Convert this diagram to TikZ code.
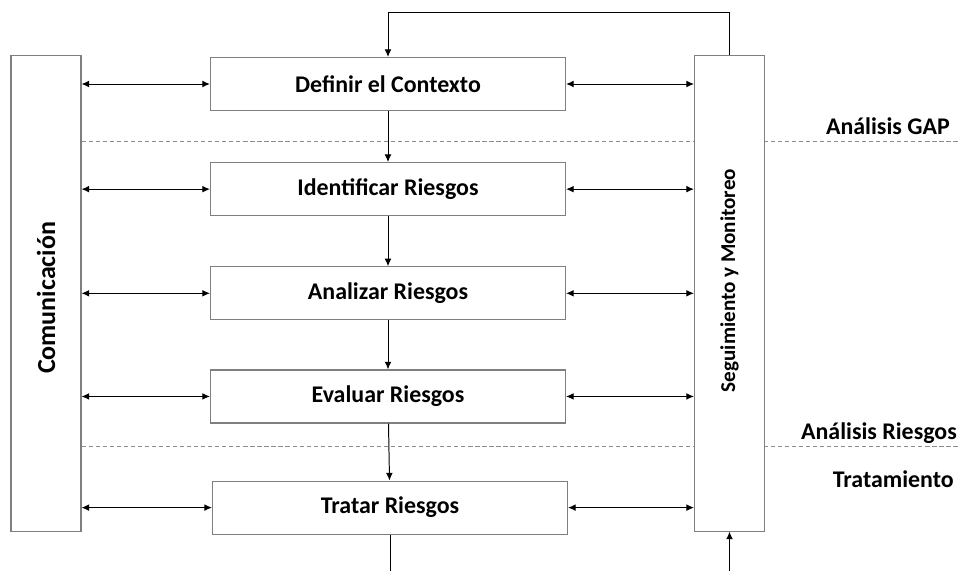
\documentclass[tikz,border=0pt]{standalone}
\usepackage{fontspec}
\setmainfont{Carlito}
\usetikzlibrary{arrows.meta,positioning,backgrounds}
\definecolor{boxGray}{HTML}{7F7F7F}
\definecolor{sepGray}{HTML}{8C8C8C}

\begin{document}
\begin{tikzpicture}[x=0.025cm, y=-0.025cm, node distance=1.25cm,
    every node/.style={font=\bfseries\fontsize{17}{20}\selectfont},
    stepbox/.style={draw=boxGray, line width=0.8pt, fill=white, minimum width=8.875cm, minimum height=1.325cm},
    sidebar/.style={draw=boxGray, line width=0.8pt, fill=white, minimum width=11.875cm, minimum height=1.75cm, rotate=90},
    flow/.style={-{Latex[length=1.9mm,width=1.7mm]}, line width=0.7pt},
    both/.style={{Latex[length=1.9mm,width=1.7mm]}-{Latex[length=1.9mm,width=1.7mm]}, line width=0.7pt},
    sepline/.style={sepGray, dashed, dash pattern=on 3pt off 2pt, line width=0.6pt}]
    \useasboundingbox (0,0) rectangle (959,571);

    % side bars
    \node[sidebar, font=\bfseries\fontsize{18.5}{22}\selectfont] (com) at (46,293.5) {Comunicación\hspace*{0.22cm}};
    \node[sidebar, font=\bfseries\fontsize{15}{18}\selectfont] (seg) at (729.5,293.5) {\hspace*{0.65cm}Seguimiento y Monitoreo};

    % process steps
    \node[stepbox] (ctx) at (388,84) {Definir el Contexto};
    \node[stepbox, below=1.275cm of ctx] (ident) {Identificar Riesgos};
    \node[stepbox, below=of ident] (anal) {Analizar Riesgos};
    \node[stepbox, below=1.225cm of anal] (eval) {Evaluar Riesgos};
    \node[stepbox, below=1.425cm of eval, xshift=0.05cm] (treat) {Tratar Riesgos};

    \foreach \a/\b in {ctx/ident,ident/anal,anal/eval,eval/treat}
      \draw[flow] (\a) -- (\b);
    \foreach \n in {ctx,ident,anal,eval,treat} {
      \draw[both] (com.south |- \n) -- (\n.west);
      \draw[both] (\n.east) -- (seg.north |- \n);
    }

    % feedback loop
    \draw[flow] (seg.east) -- ++(0,-43) -| (ctx.north);
    \coordinate (bottomL) at (treat.south |- 0,571);
    \coordinate (bottomR) at (seg.west |- 0,571);
    \draw[line width=0.7pt] (treat.south) -- (bottomL);
    \draw[flow] (bottomR) -- (seg.west);

    % phases
    \coordinate (gapsep) at (0,141);
    \coordinate (risksep) at (0,446);
    \begin{scope}[on background layer]
      \draw[sepline] (com.south |- gapsep) -- (959,141);
      \draw[sepline] (com.south |- risksep) -- (959,446);
    \end{scope}
    \node[anchor=base east, inner sep=0pt] (gap) at (950,135) {Análisis GAP};
    \node[anchor=base east, inner sep=0pt] (risk) at (957,439) {Análisis Riesgos};
    \node[anchor=base east, inner sep=0pt] (tre) at (954,487) {Tratamiento};
  \end{tikzpicture}
\end{document}
